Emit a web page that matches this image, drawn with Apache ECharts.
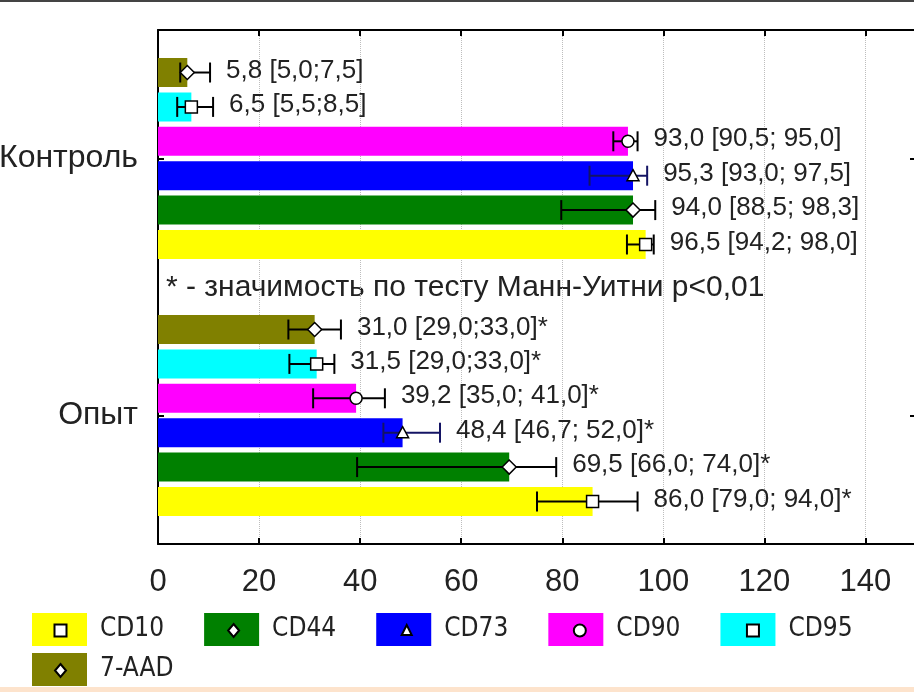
<!DOCTYPE html>
<html>
<head>
<meta charset="utf-8">
<script src="https://cdn.jsdelivr.net/npm/echarts@6/dist/echarts.min.js"></script>
<style>
html,body{margin:0;padding:0;background:#fff;}
#chart{width:914px;height:692px;}
</style>
</head>
<body>
<div id="chart"></div>
<script>
// ---- data ----
const categories = ['Опыт', 'Контроль'];
const seriesNames = ['CD10', 'CD44', 'CD73', 'CD90', 'CD95', '7-AAD'];
const seriesColors = ['#ffff00', '#008000', '#0000ff', '#ff00ff', '#00ffff', '#808000'];
const markerShapes = ['square', 'diamond', 'triangle', 'circle', 'square', 'diamond'];
const errorColors = ['#000', '#000', '#141464', '#000', '#000', '#000'];

const controlMedian = [96.5, 94.0, 94.0, 93.0, 6.6, 5.8];
const controlLow = [92.8, 79.8, 85.4, 90.1, 3.8, 4.4];
const controlHigh = [98.1, 98.4, 96.8, 94.9, 10.9, 10.3];
const controlLabels = ['96,5 [94,2; 98,0]', '94,0 [88,5; 98,3]', '95,3 [93,0; 97,5]', '93,0 [90,5; 95,0]', '6,5 [5,5;8,5]', '5,8 [5,0;7,5]'];

const experimentMedian = [86.0, 69.5, 48.4, 39.2, 31.4, 31.0];
const experimentLow = [75.0, 39.4, 44.6, 30.7, 26.0, 25.8];
const experimentHigh = [94.9, 78.8, 55.8, 44.9, 34.9, 36.2];
const experimentLabels = ['86,0 [79,0; 94,0]*', '69,5 [66,0; 74,0]*', '48,4 [46,7; 52,0]*', '39,2 [35,0; 41,0]*', '31,5 [29,0;33,0]*', '31,0 [29,0;33,0]*'];

const xMin = 0, xMax = 150, xInterval = 20;
const noteText = '* - значимость по тесту Манн-Уитни p<0,01';

// ---- build ----
const BAR_W = 29, GAP_RATIO = 0.186;
const PITCH = BAR_W * (1 + GAP_RATIO);
const medianByCat = [experimentMedian, controlMedian];
const lowByCat = [experimentLow, controlLow];
const highByCat = [experimentHigh, controlHigh];
const labelByCat = [experimentLabels, controlLabels];
const FONT = '"Liberation Sans", Arial, sans-serif';

function markerEl(shape, x, y) {
  const st = {fill: '#fff', stroke: '#000', lineWidth: 1.5};
  if (shape === 'square') return {type: 'rect', shape: {x: x - 6, y: y - 6, width: 12, height: 12}, style: st};
  if (shape === 'circle') return {type: 'circle', shape: {cx: x, cy: y, r: 6}, style: st};
  if (shape === 'triangle') return {type: 'polygon', shape: {points: [[x, y - 6], [x + 6, y + 5], [x - 6, y + 5]]}, style: st};
  return {type: 'polygon', shape: {points: [[x, y - 7], [x + 7, y], [x, y + 7], [x - 7, y]]}, style: st};
}

const series = [];
// bars: pushed in reverse so that CD10 sits at the bottom of each group
for (let si = seriesNames.length - 1; si >= 0; si--) {
  series.push({
    type: 'bar', name: seriesNames[si], barWidth: BAR_W, barGap: (GAP_RATIO * 100) + '%',
    itemStyle: {color: seriesColors[si]},
    data: categories.map((c, ci) => medianByCat[ci][si]),
    z: 2
  });
}
seriesNames.forEach((name, si) => {
  series.push({
    type: 'custom', name: name, z: 5,
    itemStyle: {color: seriesColors[si]},
    encode: {x: [0, 2, 3], y: 1},
    data: categories.map((c, ci) => [medianByCat[ci][si], ci, lowByCat[ci][si], highByCat[ci][si]]),
    renderItem: function (params, api) {
      const ci = api.value(1);
      const off = (2.5 - si) * PITCH;
      const yc = api.coord([0, ci])[1] + off;
      const xm = api.coord([api.value(0), ci])[0];
      const xl = api.coord([api.value(2), ci])[0];
      const xh = api.coord([api.value(3), ci])[0];
      const ls = {stroke: errorColors[si], lineWidth: 2};
      return {
        type: 'group',
        children: [
          {type: 'line', shape: {x1: xl, y1: yc, x2: xh, y2: yc}, style: ls},
          {type: 'line', shape: {x1: xl, y1: yc - 10, x2: xl, y2: yc + 10}, style: ls},
          {type: 'line', shape: {x1: xh, y1: yc - 10, x2: xh, y2: yc + 10}, style: ls},
          markerEl(markerShapes[si], xm, yc),
          {type: 'text', style: {text: labelByCat[ci][si], x: xh + 16, y: yc - 2, fill: '#222',
            fontSize: 26, fontFamily: FONT, align: 'left', verticalAlign: 'middle'}}
        ]
      };
    }
  });
});

const iconPaths = {
  square: 'path://M0 0M55 33M21.5 10.5L33.5 10.5L33.5 22.5L21.5 22.5Z',
  diamond: 'path://M0 0M55 33M27.5 10L33 16.5L27.5 23L22 16.5Z',
  triangle: 'path://M0 0M55 33M27.5 11L32.5 21L22.5 21Z',
  circle: 'path://M0 0M55 33M33.5 16.5A6 6 0 1 1 21.5 16.5A6 6 0 1 1 33.5 16.5Z'
};
const legendFont = '"Liberation Sans Narrow", "DejaVu Sans Condensed", sans-serif';
function legendBase(names, top) {
  return {
    left: 32, top: top, padding: 0, orient: 'horizontal', selectedMode: false,
    itemWidth: 55, itemHeight: 33, itemGap: 40,
    textStyle: {fontSize: 26, fontFamily: legendFont, color: '#222', padding: [0, 0, 0, 8]},
    data: names.map(n => ({name: n, icon: 'rect'}))
  };
}
function legendMarks(names, top) {
  const l = legendBase(names, top);
  l.z = 10;
  l.itemStyle = {color: '#fff', borderColor: '#000', borderWidth: 2};
  l.textStyle.color = 'rgba(0,0,0,0)';
  l.data = names.map(n => ({name: n, icon: iconPaths[markerShapes[seriesNames.indexOf(n)]]}));
  return l;
}
const row1 = seriesNames.slice(0, 5), row2 = seriesNames.slice(5);

const option = {
  animation: false,
  backgroundColor: '#fff',
  grid: {left: 158, top: 30, width: 758, bottom: 148, containLabel: false, outerBoundsMode: 'none'},
  legend: [legendBase(row1, 613), legendBase(row2, 653), legendMarks(row1, 613), legendMarks(row2, 653)],
  xAxis: [
    {type: 'value', min: xMin, max: xMax, interval: xInterval, position: 'bottom',
     axisLine: {show: true, onZero: false, lineStyle: {color: '#000', width: 2}},
     axisTick: {show: true, inside: true, length: 6, lineStyle: {color: '#000', width: 2}},
     axisLabel: {fontSize: 31, color: '#222', margin: 23, showMaxLabel: false, fontFamily: FONT},
     splitLine: {show: true, lineStyle: {color: '#bdbdbd', type: 'dotted', width: 1}}},
    {type: 'value', min: xMin, max: xMax, interval: xInterval, position: 'top',
     axisLine: {show: true, onZero: false, lineStyle: {color: '#000', width: 2}},
     axisTick: {show: true, inside: true, length: 6, lineStyle: {color: '#000', width: 2}},
     axisLabel: {show: false}, splitLine: {show: false}}
  ],
  yAxis: [
    {type: 'category', data: categories, position: 'left',
     axisLine: {show: true, onZero: false, lineStyle: {color: '#000', width: 2}},
     axisTick: {show: true, inside: true, length: 6, alignWithLabel: true, lineStyle: {color: '#000', width: 2}},
     axisLabel: {fontSize: 32, color: '#222', margin: 20, fontFamily: FONT},
     splitLine: {show: false}},
    {type: 'category', data: categories, position: 'right',
     axisLine: {show: true, onZero: false, lineStyle: {color: '#000', width: 2}},
     axisTick: {show: true, inside: true, length: 6, alignWithLabel: true, lineStyle: {color: '#000', width: 2}},
     axisLabel: {show: false}, splitLine: {show: false}}
  ],
  graphic: [
    {type: 'rect', left: 0, top: 0, shape: {width: 914, height: 2}, style: {fill: '#444'}, silent: true},
    {type: 'rect', left: 0, top: 687, shape: {width: 914, height: 5}, style: {fill: '#fde3cc'}, silent: true},
    {type: 'text', left: 166, top: 273, style: {text: noteText, fill: '#222', fontSize: 30, fontFamily: FONT}}
  ],
  series: series
};

const chart = echarts.init(document.getElementById('chart'), null, {renderer: 'canvas'});
chart.setOption(option);
</script>
</body>
</html>
